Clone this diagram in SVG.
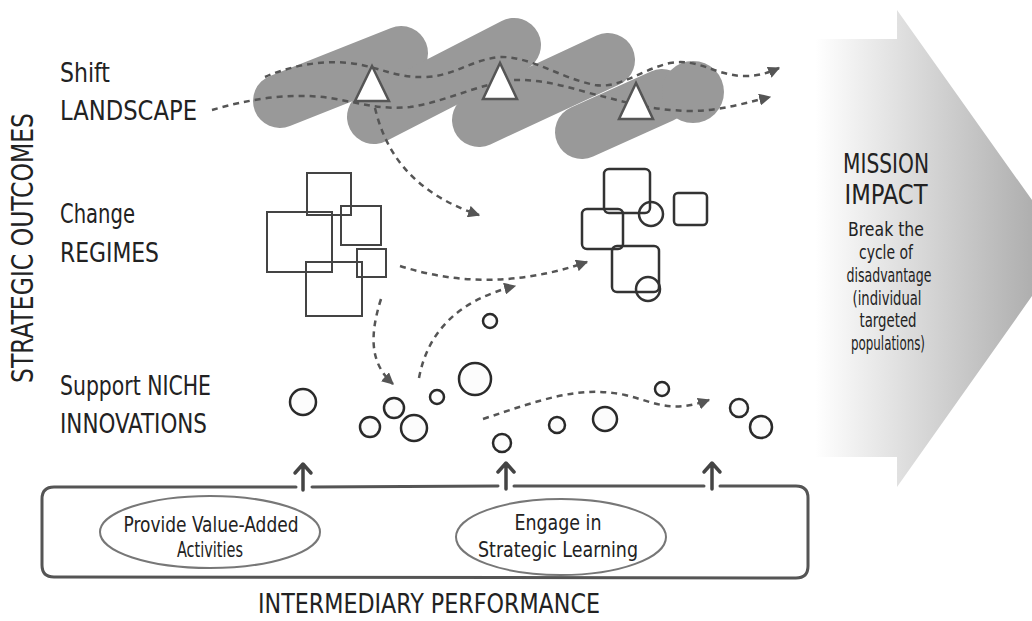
<svg xmlns="http://www.w3.org/2000/svg" width="1032" height="621" viewBox="0 0 1032 621">
<style>
text{font-family:"Liberation Sans Narrow","DejaVu Sans Condensed","Liberation Sans",sans-serif;fill:#222}
.lbl{font-size:26px}
.mid{text-anchor:middle}
.dash{fill:none;stroke:#555;stroke-width:2.5;stroke-dasharray:6 5}
.cloud{fill:none;stroke:#999;stroke-width:54;stroke-linecap:round}
.tri{fill:#fff;stroke:#555;stroke-width:2.5;stroke-linejoin:miter}
.sq{fill:none;stroke:#444;stroke-width:2}
.rsq{fill:none;stroke:#333;stroke-width:2.5}
.cir{fill:#fcfcfc;stroke:#2a2a2a;stroke-width:2.5}
.box{fill:none;stroke:#555;stroke-width:3;stroke-linecap:round;stroke-linejoin:round}
.up{fill:none;stroke:#444;stroke-width:3.5;stroke-linecap:round;stroke-linejoin:round}
.ell{fill:#fff;stroke:#777;stroke-width:2}
</style>
<defs>
<linearGradient id="g" gradientUnits="userSpaceOnUse" x1="815" y1="0" x2="1040" y2="0">
<stop offset="0" stop-color="#ffffff"/>
<stop offset="1" stop-color="#acacac"/>
</linearGradient>
<marker id="ah" viewBox="0 0 10 10" refX="9" refY="5" markerWidth="12" markerHeight="12" markerUnits="userSpaceOnUse" orient="auto">
<path d="M0,0 L10,5 L0,10 z" fill="#555"/>
</marker>
</defs>

<g id="mission-arrow">
<path d="M815,39 L897,39 L897,10 L1066,248 L897,487 L897,457 L815,457 z" fill="url(#g)"/>
<text class="mid" x="886" y="173" font-size="26" textLength="86" lengthAdjust="spacingAndGlyphs">MISSION</text>
<text class="mid" x="886" y="204" font-size="26" textLength="83" lengthAdjust="spacingAndGlyphs">IMPACT</text>
<text class="mid" x="886" y="236" font-size="19" textLength="76" lengthAdjust="spacingAndGlyphs">Break the</text>
<text class="mid" x="886" y="259" font-size="19" textLength="54" lengthAdjust="spacingAndGlyphs">cycle of</text>
<text class="mid" x="889" y="282" font-size="19" textLength="85" lengthAdjust="spacingAndGlyphs">disadvantage</text>
<text class="mid" x="887" y="305" font-size="19" textLength="69" lengthAdjust="spacingAndGlyphs">(individual</text>
<text class="mid" x="888" y="327" font-size="19" textLength="57" lengthAdjust="spacingAndGlyphs">targeted</text>
<text class="mid" x="888" y="350" font-size="19" textLength="74" lengthAdjust="spacingAndGlyphs">populations)</text>
</g>

<g id="axis-label">
<text class="mid" transform="translate(33,248) rotate(-90)" font-size="30" textLength="270" lengthAdjust="spacingAndGlyphs">STRATEGIC OUTCOMES</text>
</g>

<g id="landscape-label">
<text class="lbl" x="60" y="82" textLength="50" lengthAdjust="spacingAndGlyphs">Shift</text>
<text class="lbl" x="60" y="120" textLength="137" lengthAdjust="spacingAndGlyphs">LANDSCAPE</text>
</g>
<g id="regimes-label">
<text class="lbl" x="60" y="223" textLength="75" lengthAdjust="spacingAndGlyphs">Change</text>
<text class="lbl" x="60" y="262" textLength="99" lengthAdjust="spacingAndGlyphs">REGIMES</text>
</g>
<g id="niche-label">
<text class="lbl" x="60" y="395" textLength="151" lengthAdjust="spacingAndGlyphs">Support NICHE</text>
<text class="lbl" x="60" y="433" textLength="147" lengthAdjust="spacingAndGlyphs">INNOVATIONS</text>
</g>

<g id="landscape">
<path class="cloud" d="M280,101 L401,53"/>
<path class="cloud" d="M374,117 L514,45"/>
<path class="cloud" d="M479,120 L608,60"/>
<path class="cloud" d="M582,132 L662,96"/>
<circle cx="693" cy="92" r="31" fill="#999"/>
</g>

<g id="regimes-left">
<rect class="sq" x="307" y="173" width="44" height="42"/>
<rect class="sq" x="341" y="206" width="40" height="39"/>
<rect class="sq" x="267" y="212" width="65" height="60"/>
<rect class="sq" x="357" y="249" width="29" height="28"/>
<rect class="sq" x="306" y="262" width="56" height="54"/>
</g>

<g id="regimes-right">
<rect class="rsq" x="604" y="169" width="46" height="44" rx="5"/>
<circle cx="651" cy="214" r="12" fill="none" stroke="#333" stroke-width="2.5"/>
<rect class="rsq" x="674" y="193" width="33" height="32" rx="4"/>
<rect class="rsq" x="582" y="209" width="41" height="40" rx="5"/>
<rect class="rsq" x="612" y="246" width="47" height="46" rx="5"/>
<circle cx="648" cy="289" r="12" fill="none" stroke="#333" stroke-width="2.5"/>
</g>

<g id="niches">
<circle class="cir" cx="490" cy="321" r="7"/>
<circle class="cir" cx="303" cy="402" r="13"/>
<circle class="cir" cx="394" cy="408" r="10"/>
<circle class="cir" cx="370" cy="427" r="10"/>
<circle class="cir" cx="414" cy="428" r="13"/>
<circle class="cir" cx="437" cy="397" r="7"/>
<circle class="cir" cx="475" cy="379" r="16"/>
<circle class="cir" cx="502" cy="443" r="9"/>
<circle class="cir" cx="557" cy="425" r="8"/>
<circle class="cir" cx="605" cy="419" r="12"/>
<circle class="cir" cx="662" cy="389" r="7"/>
<circle class="cir" cx="739" cy="408" r="9"/>
<circle class="cir" cx="761" cy="427" r="11"/>
</g>

<g id="connectors">
<path class="dash" d="M212,110 C245,100 290,92 330,98 C360,103 380,110 410,107 C440,103 470,88 505,81 C540,76 575,90 605,97 C630,103 650,110 690,111 C720,111 745,103 770,97" marker-end="url(#ah)"/>
<path class="dash" d="M265,77 C290,66 320,60 350,63 C380,67 395,78 425,77 C455,76 470,60 500,57 C530,56 560,78 595,85 C620,89 640,70 670,63 C700,58 715,76 745,76 C760,76 770,72 779,68" marker-end="url(#ah)"/>
<path class="dash" d="M375,108 C385,150 410,192 479,215" marker-end="url(#ah)"/>
<path class="dash" d="M400,266 C460,285 520,285 587,262" marker-end="url(#ah)"/>
<path class="dash" d="M381,299 C368,340 372,365 393,384" marker-end="url(#ah)"/>
<path class="dash" d="M419,378 C428,330 460,300 515,286" marker-end="url(#ah)"/>
<path class="dash" d="M483,419 C540,400 580,385 625,395 C655,402 670,414 709,400" marker-end="url(#ah)"/>
</g>

<g id="triangles">
<polygon class="tri" points="372,66 355,101 389,101"/>
<polygon class="tri" points="500,63 483,99 517,99"/>
<polygon class="tri" points="636,83 619,119 653,119"/>
</g>

<g id="intermediary">
<path class="box" d="M312,487 L498,486 M514,486 L704,486 M720,486 L796,486 Q808,486 808,498 L808,566 Q808,578 796,578 L54,577 Q42,577 42,565 L42,499 Q42,487 54,487 L296,487"/>
<path class="up" d="M303,490 L303,465 M295,473 L303,464 L311,473"/>
<path class="up" d="M506,489 L506,464 M498,472 L506,463 L514,472"/>
<path class="up" d="M712,489 L712,464 M704,472 L712,463 L720,472"/>
<text class="mid" x="429" y="613" font-size="26" textLength="342" lengthAdjust="spacingAndGlyphs">INTERMEDIARY PERFORMANCE</text>
</g>
<g id="value-added">
<ellipse class="ell" cx="210" cy="532" rx="110" ry="36"/>
<text class="mid" x="211" y="532" font-size="21" textLength="175" lengthAdjust="spacingAndGlyphs">Provide Value-Added</text>
<text class="mid" x="210" y="557" font-size="21" textLength="66" lengthAdjust="spacingAndGlyphs">Activities</text>
</g>
<g id="strategic-learning">
<ellipse class="ell" cx="561" cy="537" rx="105" ry="38"/>
<text class="mid" x="558" y="530" font-size="21" textLength="87" lengthAdjust="spacingAndGlyphs">Engage in</text>
<text class="mid" x="558" y="557" font-size="21" textLength="160" lengthAdjust="spacingAndGlyphs">Strategic Learning</text>
</g>
</svg>
